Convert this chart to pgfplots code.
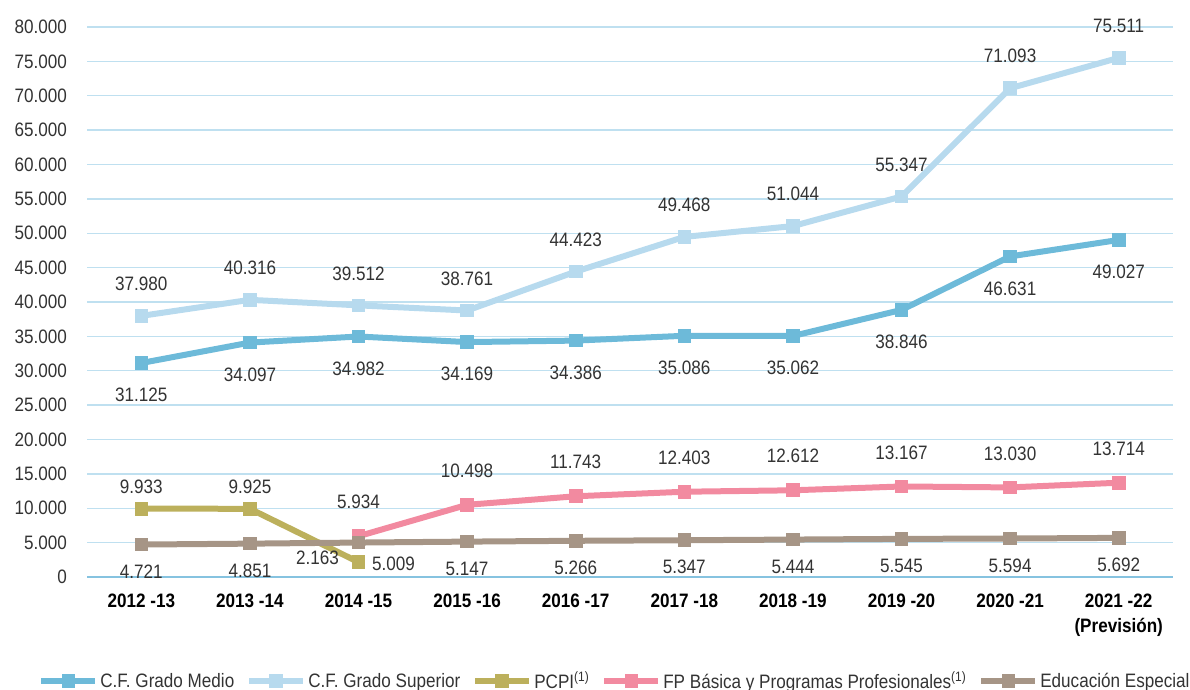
\documentclass[border=0pt]{standalone}
\usepackage{pgfplots}
\pgfplotsset{compat=1.18}
\usepackage{fontspec}
\setmainfont{Liberation Sans}[FakeStretch=0.88]
\definecolor{cmedio}{HTML}{6DBAD9}
\definecolor{csup}{HTML}{B7DAEE}
\definecolor{cpcpi}{HTML}{BCB05C}
\definecolor{cfp}{HTML}{F28AA0}
\definecolor{cesp}{HTML}{A69586}
\definecolor{cgrid}{HTML}{BFE0F0}
\definecolor{caxis}{HTML}{86C3E0}
\definecolor{ctext}{HTML}{333333}
\newcommand{\fs}{\fontsize{19.5}{22}\selectfont}
\begin{document}
\begin{tikzpicture}
\useasboundingbox (0bp,0bp) rectangle (1190bp,690bp);
\begin{axis}[
  at={(87bp,113bp)}, anchor=south west,
  scale only axis, width=1086bp, height=550bp,
  xmin=-0.5, xmax=9.5, ymin=0, ymax=80000,
  axis x line*=bottom, axis y line*=left,
  x axis line style={caxis, line width=1.6bp, -},
  y axis line style={draw=none},
  ymajorgrids, grid style={cgrid, line width=1.3bp},
  ytick={0,5000,...,80000},
  xtick={0,...,9},
  xticklabels={2012 -13,2013 -14,2014 -15,2015 -16,2016 -17,2017 -18,2018 -19,2019 -20,2020 -21,{2021 -22\\(Previsión)}},
  major tick length=0pt, tick style={draw=none},
  scaled y ticks=false,
  yticklabel style={font=\fs, text=ctext, anchor=east, inner sep=0pt, xshift=-20bp,
    /pgf/number format/fixed, /pgf/number format/1000 sep={.}, /pgf/number format/assume math mode=true},
  xticklabel style={font=\bfseries\fontsize{19.5}{25}\selectfont, align=center, anchor=north, inner sep=0pt, yshift=-17bp},
  clip=false,
  every node near coord/.append style={font=\fs, text=ctext, anchor=center,
    /pgf/number format/fixed, /pgf/number format/1000 sep={.}, /pgf/number format/assume math mode=true},
  legend columns=5,
  legend style={at={(-0.045,-0.189)}, anchor=west, draw=none, fill=none, inner sep=0pt,
    font=\fs, text=ctext,
    /tikz/every even column/.append style={column sep=10bp}},
  legend image code/.code={\draw[mark repeat=2, mark phase=2] plot coordinates {(0bp,0bp) (27bp,0bp) (54bp,0bp)};},
  mystyle/.style={line width=6bp, mark=square*, mark size=6.3bp, mark options={line width=0pt}},
]
% C.F. Grado Medio
\addplot[cmedio, mystyle, nodes near coords, every node near coord/.append style={yshift=-32bp}] coordinates {
 (0,31125) (1,34097) (2,34982) (3,34169) (4,34386) (5,35086) (6,35062) (7,38846) (8,46631) (9,49027)};
\addlegendentry{C.F. Grado Medio}
% C.F. Grado Superior
\addplot[csup, mystyle, nodes near coords, every node near coord/.append style={yshift=32bp}] coordinates {
 (0,37980) (1,40316) (2,39512) (3,38761) (4,44423) (5,49468) (6,51044) (7,55347) (8,71093) (9,75511)};
\addlegendentry{C.F. Grado Superior}
% PCPI
\addplot[cpcpi, mystyle] coordinates {(0,9933) (1,9925) (2,2163)};
\addlegendentry{PCPI\textsuperscript{(1)}}
% FP Basica
\addplot[cfp, mystyle, nodes near coords, every node near coord/.append style={yshift=34bp}] coordinates {
 (2,5934) (3,10498) (4,11743) (5,12403) (6,12612) (7,13167) (8,13030) (9,13714)};
\addlegendentry{FP Básica y Programas Profesionales\textsuperscript{(1)}}
% Educacion Especial
\addplot[cesp, mystyle] coordinates {
 (0,4721) (1,4851) (2,5009) (3,5147) (4,5266) (5,5347) (6,5444) (7,5545) (8,5594) (9,5692)};
\addlegendentry{Educación Especial}
% labels
\addplot[draw=none, forget plot, nodes near coords, every node near coord/.append style={yshift=22bp}] coordinates {(0,9933) (1,9925)};
\addplot[draw=none, forget plot, nodes near coords, every node near coord/.append style={xshift=-41bp, yshift=4bp}] coordinates {(2,2163)};
\addplot[draw=none, forget plot, nodes near coords, every node near coord/.append style={yshift=-27bp}] coordinates {
 (0,4721) (1,4851) (3,5147) (4,5266) (5,5347) (6,5444) (7,5545) (8,5594) (9,5692)};
\addplot[draw=none, forget plot, nodes near coords, every node near coord/.append style={xshift=35bp, yshift=-21bp}] coordinates {(2,5009)};
\end{axis}
\end{tikzpicture}
\end{document}
